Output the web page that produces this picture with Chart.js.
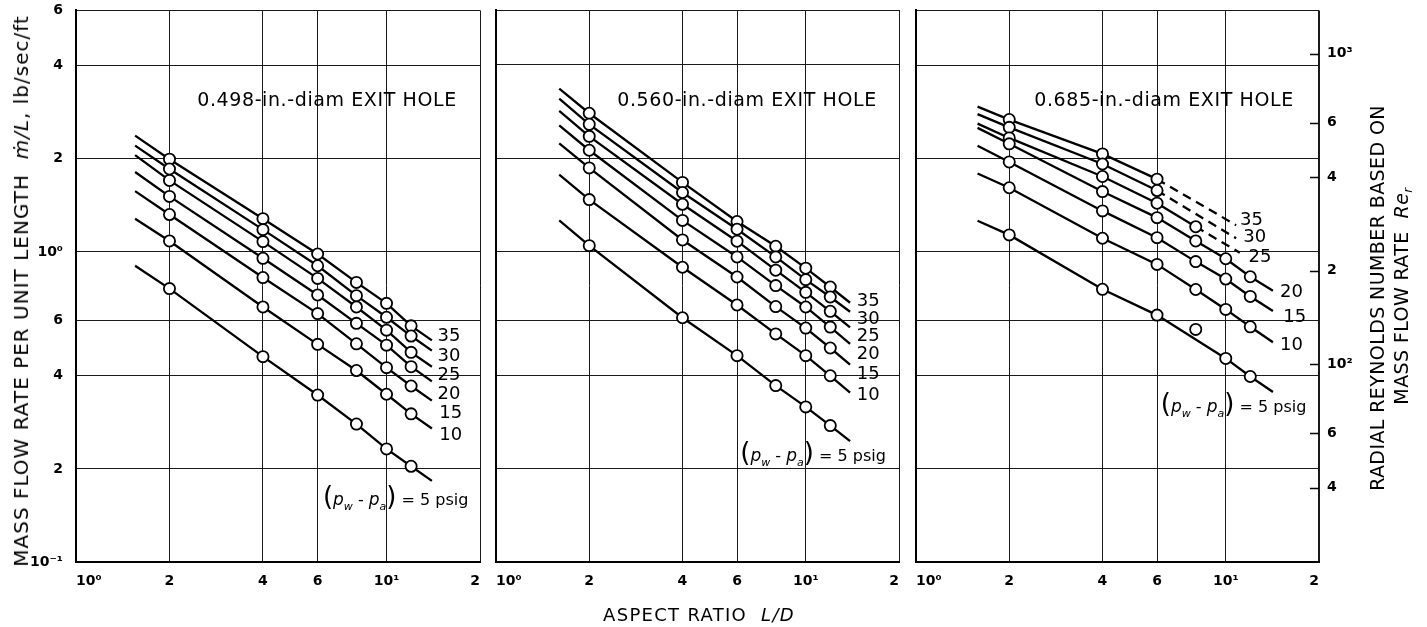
<!DOCTYPE html>
<html>
<head>
<meta charset="utf-8">
<script src="https://cdn.jsdelivr.net/npm/chart.js@4.4.1/dist/chart.umd.min.js"></script>
<style>
  html, body { margin: 0; padding: 0; background: #fff; }
  #page { position: relative; width: 1427px; height: 627px; overflow: hidden; font-family: "DejaVu Sans", sans-serif; color: #000; }
  #page canvas { position: absolute; top: 0; }
  .txt { position: absolute; white-space: nowrap; font-size: 18px; line-height: 1; }
  .rot { transform: translate(-50%, -50%) rotate(-90deg); }
  .ctr { transform: translate(-50%, -50%); }
  .head { font-size: 19px; letter-spacing: 0.6px; }
</style>
</head>
<body>
<div id="page">
  <canvas id="hole498" width="500" height="640" style="left:0px;width:500px;height:640px"></canvas>
  <canvas id="hole560" width="440" height="640" style="left:480px;width:440px;height:640px"></canvas>
  <canvas id="hole685" width="530" height="640" style="left:900px;width:530px;height:640px"></canvas>

  <div class="txt ctr head" style="left:327px;top:99px">0.498-in.-diam EXIT HOLE</div>
  <div class="txt ctr head" style="left:747px;top:99px">0.560-in.-diam EXIT HOLE</div>
  <div class="txt ctr head" style="left:1164px;top:99px">0.685-in.-diam EXIT HOLE</div>

  <div class="txt rot" style="left:21px;top:291px;font-size:20px;letter-spacing:1px">MASS FLOW RATE PER UNIT LENGTH&nbsp; <i>ṁ/L</i>, lb/sec/ft</div>
  <div class="txt rot" style="left:1377px;top:298px;font-size:19px;letter-spacing:0.4px">RADIAL REYNOLDS NUMBER BASED ON</div>
  <div class="txt rot" style="left:1403px;top:296px;font-size:19px;letter-spacing:0.4px">MASS FLOW RATE&nbsp; <i>Re<sub style="font-size:12px">r</sub></i></div>
  <div class="txt ctr" style="left:699px;top:615px;font-size:18px;letter-spacing:1.3px">ASPECT RATIO&nbsp; <i>L/D</i></div>
</div>

<script>
// axis ticks (log-log)
const xTicks = [1, 2, 4, 6, 10, 20];
const xTickLabels = ['10⁰', '2', '4', '6', '10¹', '2'];
const yTicks = [0.1, 0.2, 0.4, 0.6, 1, 2, 4, 6];
const yTickLabels = ['10⁻¹', '2', '4', '6', '10⁰', '2', '4', '6'];
const reTicks = [40, 60, 100, 200, 400, 600, 1000];
const reTickLabels = ['4', '6', '10²', '2', '4', '6', '10³'];
const rePerFlow = 230; // Re_r for 1 lb/sec/ft

const aspectRatio = [2, 4, 6, 8, 10, 12];
const pressureLevels = [35, 30, 25, 20, 15, 10, 5]; // psig

// m/L (lb/sec/ft); rows follow pressureLevels, columns follow aspectRatio
const flow498 = [
  [1.99, 1.28, 0.985, 0.798, 0.683, 0.578],
  [1.85, 1.18, 0.903, 0.723, 0.616, 0.536],
  [1.70, 1.08, 0.822, 0.665, 0.560, 0.475],
  [1.51, 0.954, 0.727, 0.589, 0.501, 0.427],
  [1.32, 0.827, 0.633, 0.506, 0.424, 0.370],
  [1.085, 0.665, 0.504, 0.415, 0.348, 0.301],
  [0.762, 0.460, 0.346, 0.279, 0.232, 0.204]
];
const fit498StartX = [1.55, 1.55, 1.55, 1.55, 1.55, 1.55, 1.55];
const fit498Start = [2.37, 2.20, 2.05, 1.81, 1.57, 1.28, 0.903];
const fit498EndX = [14, 14, 14, 14, 14, 14, 14];
const fit498End = [0.519, 0.481, 0.427, 0.383, 0.332, 0.270, 0.183];

const flow560 = [
  [2.79, 1.67, 1.25, 1.04, 0.884, 0.769],
  [2.57, 1.55, 1.18, 0.961, 0.812, 0.714],
  [2.35, 1.42, 1.08, 0.871, 0.739, 0.642],
  [2.12, 1.26, 0.961, 0.777, 0.663, 0.571],
  [1.86, 1.09, 0.828, 0.665, 0.567, 0.489],
  [1.47, 0.89, 0.673, 0.543, 0.462, 0.398],
  [1.045, 0.612, 0.462, 0.370, 0.316, 0.275]
];
const fit560StartX = [1.6, 1.6, 1.6, 1.6, 1.6, 1.6, 1.6];
const fit560Start = [3.35, 3.11, 2.84, 2.55, 2.23, 1.77, 1.26];
const fit560EndX = [13.9, 13.9, 13.9, 13.9, 13.9, 13.9, 13.9];
const fit560End = [0.684, 0.640, 0.570, 0.504, 0.432, 0.351, 0.245];

const flow685 = [
  [2.67, 2.07, 1.716, null, null, null],
  [2.52, 1.92, 1.577, null, null, null],
  [2.33, 1.75, 1.436, 1.206, null, null],
  [2.23, 1.565, 1.29, 1.085, 0.951, 0.832],
  [1.95, 1.356, 1.112, 0.931, 0.818, 0.719],
  [1.61, 1.107, 0.912, 0.757, 0.653, 0.574],
  [1.135, 0.758, 0.626, null, 0.454, 0.397]
];
const fit685StartX = [1.58, 1.58, 1.58, 1.58, 1.58, 1.58, 1.58];
const fit685Start = [2.94, 2.78, 2.59, 2.51, 2.20, 1.79, 1.26];
const fit685EndX = [10.8, 10.8, 11.1, 14.2, 14.2, 14.2, 14.2];
const fit685End = [1.22, 1.107, 0.995, 0.75, 0.645, 0.512, 0.354];
const fit685DashFrom = [6, 6, 8, null, null, null, null]; // extrapolated part
const stray685 = [{ x: 8, y: 0.563 }]; // 5 psig point off the curve

// where the curve labels sit (L/D, m/L)
const labels498 = [[15.9, 0.533], [15.9, 0.462], [15.9, 0.401], [15.9, 0.348], [16.1, 0.302], [16.1, 0.257]];
const labels560 = [[15.9, 0.692], [15.9, 0.603], [15.9, 0.533], [15.9, 0.465], [15.9, 0.401], [15.9, 0.343]];
const labels685 = [[12.1, 1.268], [12.4, 1.115], [12.9, 0.961], [16.3, 0.739], [16.7, 0.618], [16.3, 0.501]];

const tickFont = { family: 'DejaVu Sans', size: 14, weight: 'bold' };

const panelText = {
  id: 'panelText',
  afterDatasetsDraw(chart, args, o) {
    const { ctx, scales, chartArea } = chart;
    const x = scales.x, y = scales.y;
    ctx.save();
    ctx.fillStyle = '#000';
    ctx.strokeStyle = '#000';
    ctx.textBaseline = 'middle';
    ctx.textAlign = 'center';
    ctx.font = '18px "DejaVu Sans"';
    o.labels.forEach((pos, i) => {
      ctx.fillText(String(pressureLevels[i]), x.getPixelForValue(pos[0]), y.getPixelForValue(pos[1]));
    });

    // (p_w - p_a) = 5 psig
    const runs = [
      { t: '(', f: '26px "DejaVu Sans"', dy: 0 },
      { t: 'p', f: 'italic 17px "DejaVu Sans"', dy: 0 },
      { t: 'w', f: 'italic 11px "DejaVu Sans"', dy: 5 },
      { t: ' - ', f: '16px "DejaVu Sans"', dy: 0 },
      { t: 'p', f: 'italic 17px "DejaVu Sans"', dy: 0 },
      { t: 'a', f: 'italic 11px "DejaVu Sans"', dy: 5 },
      { t: ')', f: '26px "DejaVu Sans"', dy: 0 },
      { t: ' = 5 psig', f: '16px "DejaVu Sans"', dy: 0 }
    ];
    ctx.textAlign = 'left';
    ctx.textBaseline = 'alphabetic';
    let w = 0;
    runs.forEach(r => { ctx.font = r.f; w += ctx.measureText(r.t).width; });
    let px = x.getPixelForValue(o.psig[0]) - w / 2;
    const base = y.getPixelForValue(o.psig[1]) + 6;
    runs.forEach(r => {
      ctx.font = r.f;
      ctx.fillText(r.t, px, base + r.dy);
      px += ctx.measureText(r.t).width;
    });

    // inward tick marks on the Reynolds number axis
    if (scales.re) {
      ctx.lineWidth = 1.5;
      scales.re.ticks.forEach(t => {
        const py = Math.round(scales.re.getPixelForValue(t.value)) + 0.5;
        ctx.beginPath();
        ctx.moveTo(chartArea.right - 9, py);
        ctx.lineTo(chartArea.right, py);
        ctx.stroke();
      });
    }
    ctx.restore();
  }
};

function buildPanel(id, flow, startX, start, endX, end, dashFrom, extra, labels, psig, opt) {
  const datasets = [];
  const circles = [];
  flow.forEach((row, i) => {
    const pts = [];
    row.forEach((v, j) => { if (v !== null) pts.push({ x: aspectRatio[j], y: v }); });
    circles.push(...pts);
    const cut = dashFrom ? dashFrom[i] : null;
    datasets.push({
      data: [{ x: startX[i], y: start[i] }, ...pts, { x: endX[i], y: end[i] }],
      showLine: true,
      borderColor: '#000',
      borderWidth: 2.3,
      pointRadius: 0,
      tension: 0,
      order: 1,
      segment: { borderDash: c => (cut !== null && c.p0.parsed.x >= cut - 1e-6) ? [9, 6] : undefined }
    });
  });
  datasets.push({
    data: circles.concat(extra),
    showLine: false,
    pointRadius: 5.6,
    pointBackgroundColor: '#fff',
    pointBorderColor: '#000',
    pointBorderWidth: 1.8,
    order: 0
  });

  const scales = {
    x: {
      type: 'logarithmic', min: 1, max: 20,
      afterBuildTicks: s => { s.ticks = xTicks.map(v => ({ value: v })); },
      afterFit: s => { s.height = 65; },
      ticks: { callback: (v, i) => xTickLabels[i], font: tickFont, color: '#000', padding: 11, autoSkip: false, maxRotation: 0, align: 'inner' },
      grid: { color: '#1a1a1a', lineWidth: c => (opt.reAxis && c.index === xTicks.length - 1) ? 2 : 1, drawTicks: false },
      border: { display: true, color: '#000', width: 2 }
    },
    y: {
      type: 'logarithmic', min: 0.1, max: 6,
      afterBuildTicks: s => { s.ticks = yTicks.map(v => ({ value: v })); },
      afterFit: s => { s.width = opt.leftWidth; },
      ticks: { display: opt.leftLabels, callback: (v, i) => yTickLabels[i], font: tickFont, color: '#000', padding: 13, autoSkip: false },
      grid: { color: '#1a1a1a', lineWidth: 1, drawTicks: false },
      border: { display: true, color: '#000', width: 2 }
    }
  };
  if (opt.reAxis) {
    scales.re = {
      type: 'logarithmic', position: 'right',
      min: 0.1 * rePerFlow, max: 6 * rePerFlow,
      afterBuildTicks: s => { s.ticks = reTicks.map(v => ({ value: v })); },
      afterFit: s => { s.width = opt.rightWidth; },
      ticks: { callback: (v, i) => reTickLabels[i], font: tickFont, color: '#000', padding: 8, autoSkip: false },
      grid: { drawOnChartArea: false, drawTicks: false },
      border: { display: false }
    };
  }

  const pad = { top: 10, right: opt.padRight, bottom: 10, left: 0 };
  const canvas = document.getElementById(id);
  const chart = new Chart(canvas, {
    type: 'scatter',
    data: { datasets },
    options: {
      responsive: false,
      animation: false,
      events: [],
      layout: { padding: pad },
      plugins: {
        legend: { display: false },
        tooltip: { enabled: false },
        panelText: { labels, psig }
      },
      scales
    },
    plugins: [panelText]
  });

  // size the plot frame, then slide the canvas so the frame lands on its spot
  const area = opt.area;
  let a = chart.chartArea;
  pad.right += (a.right - a.left) - (area.right - area.left);
  pad.bottom += (a.bottom - a.top) - (area.bottom - area.top);
  chart.update();
  a = chart.chartArea;
  canvas.style.left = Math.round(area.left - a.left) + 'px';
  canvas.style.top = Math.round(area.top - a.top) + 'px';
  return chart;
}

buildPanel('hole498', flow498, fit498StartX, fit498Start, fit498EndX, fit498End, null, [], labels498, [10.7, 0.160],
  { leftWidth: 76, leftLabels: true, padRight: 12, reAxis: false, area: { left: 76, top: 10, right: 480, bottom: 562 } });
buildPanel('hole560', flow560, fit560StartX, fit560Start, fit560EndX, fit560End, null, [], labels560, [10.56, 0.221],
  { leftWidth: 16, leftLabels: false, padRight: 12, reAxis: false, area: { left: 496, top: 10, right: 899, bottom: 562 } });
buildPanel('hole685', flow685, fit685StartX, fit685Start, fit685EndX, fit685End, fit685DashFrom, stray685, labels685, [10.6, 0.319],
  { leftWidth: 16, leftLabels: false, padRight: 0, reAxis: true, rightWidth: 108, area: { left: 916, top: 10, right: 1319, bottom: 562 } });
</script>
</body>
</html>
